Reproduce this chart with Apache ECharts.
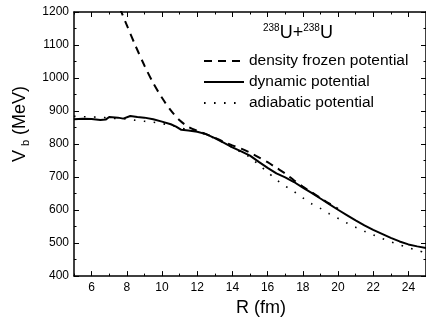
<!DOCTYPE html>
<html>
<head>
<meta charset="utf-8">
<script src="https://cdn.jsdelivr.net/npm/echarts@6/dist/echarts.min.js"></script>
<style>
  html, body { margin: 0; padding: 0; background: #fff; }
  #chart { width: 426px; height: 322px; }
</style>
</head>
<body>
<div id="chart"></div>
<script>
// dynamic potential (solid)
const dynR = [5, 5.5, 6, 6.5, 6.8, 7, 7.5, 7.8, 8.2, 8.6, 9, 9.5, 10, 10.5, 10.8, 11.1, 11.5, 12, 12.5, 13, 13.5, 14, 14.5, 15, 15.5, 16, 16.5, 17, 17.5, 18, 18.5, 19, 19.5, 20, 20.5, 21, 21.5, 22, 22.5, 23, 23.5, 24, 24.5, 25];
const dynV = [875, 877, 876, 873, 874, 882, 880, 877, 885, 882, 880, 875, 868, 860, 853, 843, 841, 837, 830, 818, 804, 790, 778, 765, 746, 728, 711, 699, 685, 668, 652, 635, 618, 601, 585, 569, 554, 540, 528, 516, 505, 496, 490, 485];

// adiabatic potential (dotted)
const adiR = [5, 5.5, 6, 6.5, 7, 7.5, 8, 8.5, 9, 9.5, 10, 10.5, 11, 11.5, 12, 12.5, 13, 13.5, 14, 14.5, 15, 15.5, 16, 16.5, 17, 17.5, 18, 18.5, 19, 19.5, 20, 20.5, 21, 21.5, 22, 22.5, 23, 23.5, 24, 24.5, 25];
const adiV = [884, 883, 882, 881, 879, 877, 876, 872, 869, 866, 862, 857, 850, 843, 837, 829, 817, 804, 789, 775, 760, 737, 715, 692, 673, 656, 637, 619, 605, 589, 575, 561, 548, 536, 525, 514, 504, 495, 486, 478, 470];

// density frozen potential (dashed)
const froR = [7.6, 8, 8.5, 9, 9.5, 10, 10.5, 11, 11.5, 12, 12.5, 13, 13.5, 14, 14.5, 15, 15.5, 16, 16.5, 17, 17.5, 18, 18.5, 19, 19.5, 20];
const froV = [1212, 1160, 1097, 1038, 985, 940, 902, 872, 852, 840, 830, 819, 807, 796, 786, 774, 760, 745, 728, 711, 690, 671, 654, 637, 620, 604];

const xMajor = [6, 8, 10, 12, 14, 16, 18, 20, 22, 24];
const xMinor = [5, 7, 9, 11, 13, 15, 17, 19, 21, 23, 25];

const seriesNames = ['density frozen potential', 'dynamic potential', 'adiabatic potential'];

const font = 'Liberation Sans, Arial, sans-serif';
const chart = echarts.init(document.getElementById('chart'));

const pairs = (xs, ys) => xs.map((x, i) => [x, ys[i]]);

function xAxisOf(pos, ticks, len, withLine, withLabel) {
  return {
    type: 'value',
    position: pos,
    min: 5,
    max: 25,
    axisLine: { show: withLine, onZero: false, lineStyle: { color: '#000', width: 1.5 } },
    axisTick: { show: true, inside: true, length: len, customValues: ticks, lineStyle: { color: '#000', width: 1 } },
    axisLabel: withLabel
      ? { show: true, customValues: ticks, color: '#000', fontSize: 12, fontFamily: font, margin: 6 }
      : { show: false },
    splitLine: { show: false },
  };
}

function yAxisOf(pos, withLabel) {
  return {
    type: 'value',
    position: pos,
    min: 400,
    max: 1200,
    interval: 100,
    axisLine: { show: true, onZero: false, lineStyle: { color: '#000', width: 1.5 } },
    axisTick: { show: true, inside: true, length: 5, lineStyle: { color: '#000', width: 1 } },
    minorTick: { show: true, splitNumber: 2, length: 2.5, lineStyle: { color: '#000', width: 1 } },
    axisLabel: withLabel
      ? { show: true, color: '#000', fontSize: 12, fontFamily: font, margin: 5, formatter: (v) => String(v) }
      : { show: false },
    splitLine: { show: false },
  };
}

const xMain = xAxisOf('bottom', xMajor, 5, true, true);
xMain.name = 'R (fm)';
xMain.nameLocation = 'middle';
xMain.nameGap = 18;
xMain.nameTextStyle = { fontSize: 18, fontFamily: font, color: '#000', padding: [0, 0, 0, 22] };

const yMain = yAxisOf('left', true);
yMain.name = '{v|V}{sub|b}{v| (MeV)}';
yMain.nameLocation = 'middle';
yMain.nameRotate = 90;
yMain.nameGap = 42;
yMain.nameTextStyle = {
  fontFamily: font,
  color: '#000',
  padding: [0, 0, 0, 40],
  rich: {
    v: { fontSize: 18, fontFamily: font, color: '#000' },
    sub: { fontSize: 11, fontFamily: font, color: '#000', padding: [12, 0, 0, 4] },
  },
};

const option = {
  animation: false,
  backgroundColor: '#fff',
  grid: { left: 74, top: 12, width: 354, height: 271, containLabel: false },
  title: {
    text: '{sup|238}{u|U+}{sup|238}{u|U}',
    left: 263,
    top: 23,
    padding: 0,
    textStyle: {
      rich: {
        u: { fontSize: 18, fontFamily: font, fontWeight: 'normal', color: '#000' },
        sup: { fontSize: 10, fontFamily: font, fontWeight: 'normal', color: '#000', padding: [0, 0, 10, 0] },
      },
    },
  },
  legend: {
    orient: 'vertical',
    left: 203,
    top: 53,
    itemWidth: 40,
    itemHeight: 14,
    itemGap: 5,
    padding: 0,
    data: seriesNames,
    itemStyle: { opacity: 0 },
    textStyle: { fontSize: 15.5, fontFamily: font, color: '#000' },
  },
  xAxis: [
    xMain,
    xAxisOf('bottom', xMinor, 2.5, false, false),
    xAxisOf('top', xMajor, 5, true, false),
    xAxisOf('top', xMinor, 2.5, false, false),
  ],
  yAxis: [yMain, yAxisOf('right', false)],
  series: [
    {
      name: seriesNames[0],
      type: 'line',
      data: pairs(froR, froV),
      smooth: 0.3,
      showSymbol: false,
      symbol: 'none',
      lineStyle: { color: '#000', width: 2, type: [8, 6] },
      itemStyle: { color: '#000' },
    },
    {
      name: seriesNames[1],
      type: 'line',
      data: pairs(dynR, dynV),
      showSymbol: false,
      symbol: 'none',
      lineStyle: { color: '#000', width: 2 },
      itemStyle: { color: '#000' },
    },
    {
      name: seriesNames[2],
      type: 'line',
      data: pairs(adiR, adiV),
      smooth: 0.3,
      showSymbol: false,
      symbol: 'none',
      lineStyle: { color: '#000', width: 1.6, type: [1.6, 8.4] },
      itemStyle: { color: '#000' },
    },
  ],
};

chart.setOption(option);
</script>
</body>
</html>
